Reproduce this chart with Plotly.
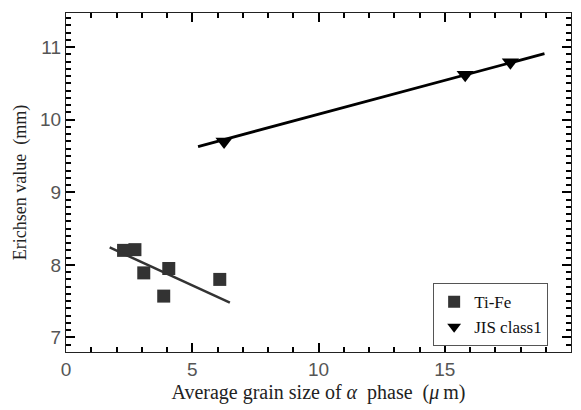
import plotly.graph_objects as go

# Data
tife_x = [2.28, 2.73, 3.08, 4.07, 3.87, 6.09]
tife_y = [8.20, 8.21, 7.89, 7.95, 7.57, 7.80]
tife_fit_x = [1.73, 6.49]
tife_fit_y = [8.24, 7.48]

jis_x = [6.26, 15.81, 17.6]
jis_y = [9.70, 10.62, 10.79]
jis_fit_x = [5.23, 18.95]
jis_fit_y = [9.63, 10.91]

x_ticks = [0, 5, 10, 15, 20]
y_ticks = [7, 8, 9, 10, 11]

fig = go.Figure()
fig.add_trace(go.Scatter(x=tife_x, y=tife_y, mode="markers", name="Ti-Fe",
                         marker=dict(symbol="square", size=13, color="#333333")))
fig.add_trace(go.Scatter(x=jis_x, y=jis_y, mode="markers", name="JIS class1",
                         marker=dict(symbol="triangle-down", size=15, color="#000000")))
fig.add_trace(go.Scatter(x=tife_fit_x, y=tife_fit_y, mode="lines",
                         line=dict(color="#333333", width=2.5), showlegend=False))
fig.add_trace(go.Scatter(x=jis_fit_x, y=jis_fit_y, mode="lines",
                         line=dict(color="#000000", width=2.8), showlegend=False))

axis_common = dict(showline=True, linecolor="#222222", linewidth=1.2, mirror="allticks",
                   ticks="inside", ticklen=9, tickwidth=2, tickcolor="black",
                   showgrid=False, zeroline=False, automargin=False)

fig.update_xaxes(range=[x_ticks[0], x_ticks[-1]], tickmode="linear",
                 tick0=x_ticks[0], dtick=x_ticks[1] - x_ticks[0],
                 minor=dict(ticks="inside", ticklen=5, tickwidth=1.5, dtick=1, tickcolor="black"),
                 title=dict(text="Average grain size of <i>α</i>\u00a0 phase\u00a0 (<i>μ</i>\u2009m)",
                            font=dict(family="Liberation Serif", size=20, color="#222222"),
                            standoff=6),
                 **axis_common)
fig.update_yaxes(range=[6.8, 11.47], tickmode="linear",
                 tick0=y_ticks[0], dtick=y_ticks[1] - y_ticks[0],
                 minor=dict(ticks="inside", ticklen=5, tickwidth=1.5, dtick=0.1, tickcolor="black"),
                 title=dict(text="Erichsen value\u00a0 (mm)",
                            font=dict(family="Liberation Serif", size=18, color="#222222"),
                            standoff=8),
                 **axis_common)

fig.update_layout(width=581, height=410,
                  margin=dict(l=66, r=10, t=13, b=58),
                  font=dict(family="Liberation Sans", size=19, color="#555555"),
                  paper_bgcolor="white", plot_bgcolor="white",
                  legend=dict(x=0.727, y=0.203, xanchor="left", yanchor="top",
                              bordercolor="#555555", borderwidth=1, bgcolor="white",
                              font=dict(family="Liberation Serif", size=17, color="#111111"),
                              itemsizing="constant", tracegroupgap=0))

fig.write_html("out.html", config={"displayModeBar": False},
               post_script="document.body.style.margin='0';document.body.style.overflow='hidden';")
